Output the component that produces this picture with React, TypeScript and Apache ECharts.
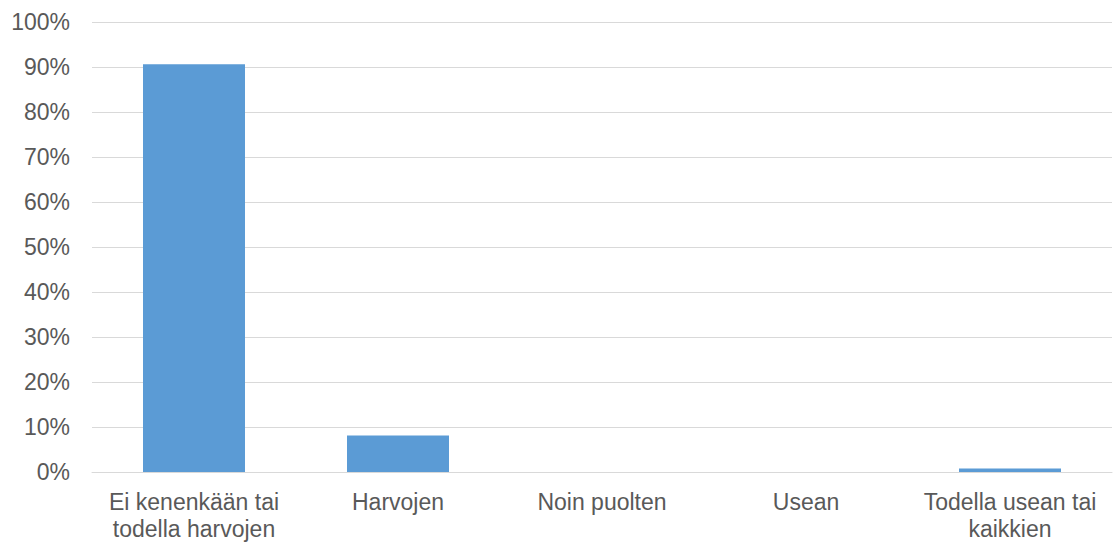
import React, { useEffect, useRef } from "react";
import * as echarts from "echarts";

const categories = [
  "Ei kenenkään tai\ntodella harvojen",
  "Harvojen",
  "Noin puolten",
  "Usean",
  "Todella usean tai\nkaikkien",
];
const values = [90.6, 8.1, 0, 0, 0.8];
const yTicks = { min: 0, max: 100, interval: 10 };

export default function App() {
  const ref = useRef<HTMLDivElement>(null);
  useEffect(() => {
    document.body.style.margin = "0";
    const chart = echarts.init(ref.current!, null, { renderer: "svg" });
    const font = "'Liberation Sans', Arial, sans-serif";
    chart.setOption({
      animation: false,
      grid: { left: 92, right: 4, top: 22, bottom: 70, containLabel: false },
      xAxis: {
        type: "category",
        data: categories,
        axisLine: { show: true, lineStyle: { color: "#D9D9D9", width: 1 } },
        axisTick: { show: false },
        axisLabel: {
          color: "#595959",
          fontFamily: font,
          fontSize: 23,
          lineHeight: 27,
          margin: 16,
          interval: 0,
        },
      },
      yAxis: {
        type: "value",
        min: yTicks.min,
        max: yTicks.max,
        interval: yTicks.interval,
        axisLine: { show: false },
        axisTick: { show: false },
        splitLine: { lineStyle: { color: "#D9D9D9", width: 1 } },
        axisLabel: {
          color: "#595959",
          fontFamily: font,
          fontSize: 23,
          margin: 22,
          formatter: (v: number) => `${v}%`,
        },
      },
      series: [
        {
          type: "bar",
          data: values,
          barWidth: "50%",
          itemStyle: { color: "#5B9BD5" },
        },
      ],
    });
    return () => chart.dispose();
  }, []);
  return <div ref={ref} style={{ width: 1116, height: 542 }} />;
}
